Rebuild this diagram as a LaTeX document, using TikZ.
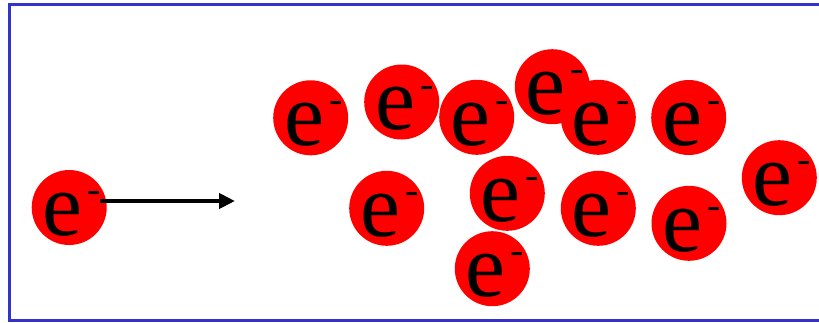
\documentclass[tikz,border=0pt]{standalone}
\usepackage{fontspec}
\setmainfont{Liberation Serif}
\usetikzlibrary{arrows.meta}
\definecolor{framecol}{RGB}{51,51,204}
\newcommand{\elabel}{\makebox[0pt][l]{\hspace{-26.6pt}\raisebox{-27.7pt}[0pt][0pt]{\fontsize{90}{90}\selectfont e\hspace{5.2pt}\raisebox{32.6pt}{\fontsize{40}{40}\selectfont -}}}}
\begin{document}
\begin{tikzpicture}[x=1pt,y=-1pt,
  electron/.style={circle, fill=red, minimum size=75pt, inner sep=0pt, outer sep=0pt, text=black},
  motion/.style={line width=4pt, -{Triangle[length=16pt,width=15pt]}}]
\useasboundingbox (0,0) rectangle (819,322);
\clip (0,0) rectangle (819,322);
\draw[framecol, line width=3.5pt] (9.5,4.3) rectangle (830,320.7);
\node[electron] (e0) at (69.2,207.5) {\elabel};
\node[electron] (e1) at (310.7,117.8) {\elabel};
\node[electron] (e2) at (401.7,102) {\elabel};
\node[electron] (e3) at (476.7,117.3) {\elabel};
\node[electron] (e4) at (386.7,208.3) {\elabel};
\node[electron] (e5) at (507.3,193.3) {\elabel};
\node[electron] (e6) at (492.3,268.7) {\elabel};
\node[electron] (e7) at (552.3,86.7) {\elabel};
\node[electron] (e8) at (598.3,117.3) {\elabel};
\node[electron] (e9) at (688.7,117.5) {\elabel};
\node[electron] (e10) at (779.3,177.7) {\elabel};
\node[electron] (e11) at (598.3,208.3) {\elabel};
\node[electron] (e12) at (689,223.3) {\elabel};
\coordinate (tip) at (235,201);
\draw[motion] ([xshift=-6.7pt,yshift=6.5pt]e0.east) -- (tip);
\end{tikzpicture}
\end{document}
